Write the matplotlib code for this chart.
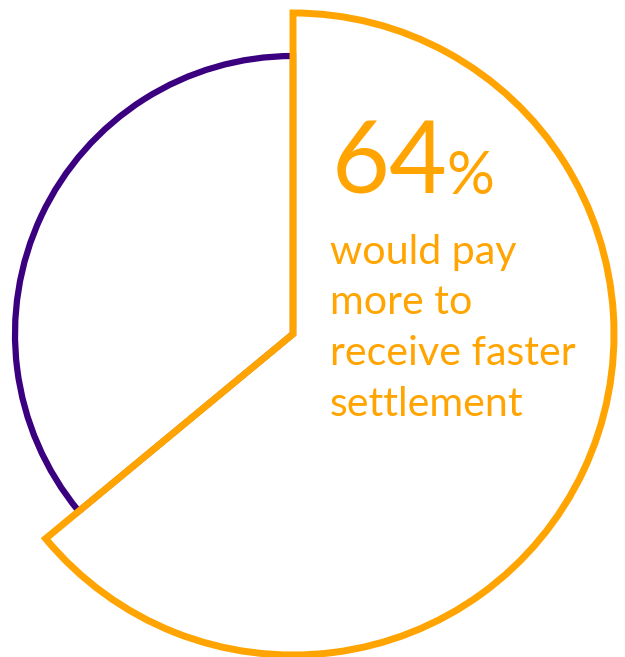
import matplotlib
matplotlib.use("Agg")
import matplotlib.pyplot as plt

values = [64, 36]
labels = ["would pay more to receive faster settlement", "other"]
headline_value = "64"
headline_unit = "%"
body_lines = ["would pay", "more to", "receive faster", "settlement"]

ORANGE = "#FFA400"
PURPLE = "#3A0080"

W, H = 625, 657
fig = plt.figure(figsize=(W / 100, H / 100), dpi=100)
ax = fig.add_axes([0, 0, 1, 1])

cx, cy = 293, H - 334

# inner (purple) ring: only the remaining share is outlined
inner, _ = ax.pie(values, radius=278, center=(cx, cy), startangle=90,
                  counterclock=False,
                  wedgeprops=dict(fill=False, linewidth=4.5, joinstyle="miter"))
inner[0].set_visible(False)
inner[1].set_edgecolor(PURPLE)

# outer (orange) highlighted slice
outer, _ = ax.pie(values, radius=321, center=(cx, cy), startangle=90,
                  counterclock=False,
                  wedgeprops=dict(fill=False, linewidth=5, joinstyle="miter"))
outer[0].set_edgecolor(ORANGE)
outer[1].set_visible(False)

ax.set_xlim(0, W)
ax.set_ylim(0, H)
ax.set_aspect("equal")
ax.axis("off")

font = "Lato"
ax.text(332, H - 193, headline_value, fontsize=72, color=ORANGE,
        family=font, va="baseline", ha="left")
ax.text(446, H - 194, headline_unit, fontsize=43, color=ORANGE,
        family=font, va="baseline", ha="left")

base = 264
for i, line in enumerate(body_lines):
    ax.text(330, H - (base + 50.5 * i), line, fontsize=29.6, color=ORANGE,
            family=font, va="baseline", ha="left")

fig.savefig("out.png", dpi=100)
